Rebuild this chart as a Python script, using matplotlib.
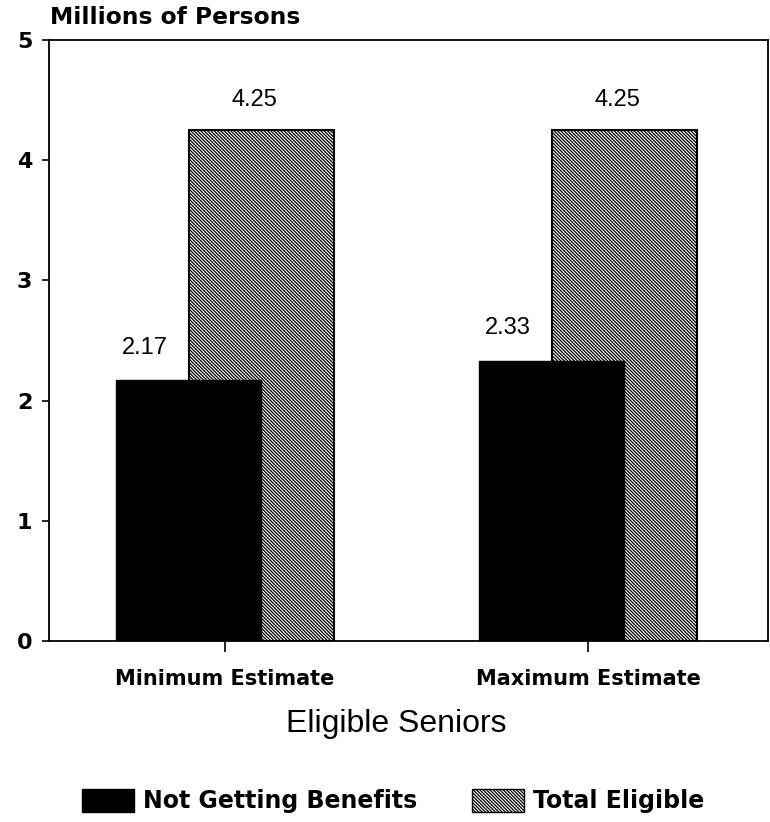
import numpy as np
import matplotlib.pyplot as plt
from matplotlib.patches import Patch

groups = ['Minimum Estimate', 'Maximum Estimate']
not_getting = [2.17, 2.33]
total_eligible = [4.25, 4.25]
yticks = [0, 1, 2, 3, 4, 5]

plt.rcParams['font.family'] = ['Liberation Sans', 'DejaVu Sans']
plt.rcParams['hatch.linewidth'] = 0.9
HATCH = '\\' * 10

fig = plt.figure(figsize=(7.7, 8.22), dpi=100)
ax = fig.add_axes([49/770, 1-641/822, (768-49)/770, (641-40)/822])

x = np.arange(len(groups))
w = 0.4
off = 0.1

ax.bar(x + off, total_eligible, w, color='white', edgecolor='black',
       hatch=HATCH, linewidth=1.5, zorder=2, label='Total Eligible')
ax.bar(x - off, not_getting, w, color='black', edgecolor='black',
       linewidth=1.0, zorder=3, label='Not Getting Benefits')

for i in range(len(groups)):
    ax.text(x[i] + off - 0.02, total_eligible[i] + 0.25, f'{total_eligible[i]:.2f}',
            ha='center', va='center', fontsize=17)
    ax.text(x[i] - off - 0.12, not_getting[i] + 0.27, f'{not_getting[i]:.2f}',
            ha='center', va='center', fontsize=17)

ax.set_xlim(-0.485, 1.496)
ax.set_ylim(0, 5)
ax.set_yticks(yticks)
ax.set_yticklabels([str(t) for t in yticks], fontsize=16, fontweight='bold',
                   family='DejaVu Sans')
ax.set_xticks(x)
ax.set_xticklabels(groups, fontsize=15, fontweight='bold', family='DejaVu Sans')
ax.tick_params(axis='y', length=5, width=1.2, pad=7)
ax.tick_params(axis='x', length=8, width=1.2, pad=12)
for s in ax.spines.values():
    s.set_linewidth(1.3)

fig.text(396/770, 1-732/822, 'Eligible Seniors', fontsize=23,
         ha='center', va='baseline')

fig.text(50/770, 1-18/822, 'Millions of Persons', fontsize=16.8, fontweight='bold',
         family='DejaVu Sans', va='center', ha='left')

handles = [Patch(facecolor='black', edgecolor='black'),
           Patch(facecolor='white', edgecolor='black', hatch=HATCH)]
fig.legend(handles, ['Not Getting Benefits', 'Total Eligible'], loc='center',
           bbox_to_anchor=(393/770, 1-801/822), ncol=2, frameon=False,
           prop={'family': 'DejaVu Sans', 'weight': 'bold', 'size': 17},
           handlelength=2.2, handleheight=1.15, columnspacing=2.3, handletextpad=0.4)

fig.savefig('out.png', dpi=100)
